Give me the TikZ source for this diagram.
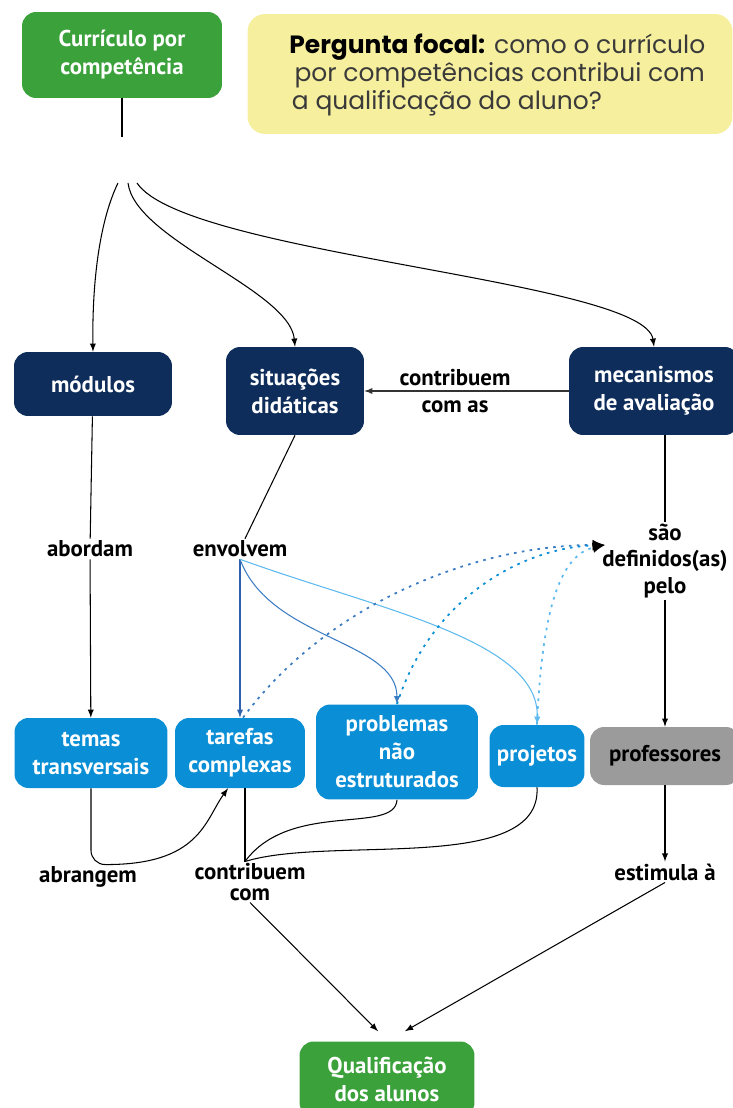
\documentclass[tikz,border=0pt]{standalone}
\usepackage{fontspec}
\setmainfont{PT Sans}
\newfontfamily\focalfont{Poppins}
\usetikzlibrary{arrows.meta}
\definecolor{verde}{HTML}{3BA13B}
\definecolor{marinho}{HTML}{0E2D5B}
\definecolor{azul}{HTML}{0A8FD6}
\definecolor{cinza}{HTML}{9B9B9B}
\definecolor{amarelo}{HTML}{F6EF9D}
\definecolor{azulA}{HTML}{2E62AE}
\definecolor{azulB}{HTML}{3C7CC3}
\definecolor{azulC}{HTML}{5DB9EE}
\definecolor{texto}{HTML}{3A3A3A}
\tikzset{
  conceito/.style={rounded corners=8pt,align=center,text=white,inner sep=2pt,
    font=\bfseries\fontsize{13}{16}\selectfont},
  rotulo/.style={align=center,inner sep=1pt,font=\bfseries\fontsize{13}{15}\selectfont},
  liga/.style={line width=0.6pt},
  seta/.style={liga,-latex},
  pontos/.style={line width=1pt,dash pattern=on 1.5pt off 3pt,-{Latex[black,length=7pt,width=6pt]}}
}
\begin{document}
\begin{tikzpicture}[x=0.02cm,y=-0.02cm]
\useasboundingbox (0,0) rectangle (733,1108);
% topo
\node[conceito,fill=verde,minimum width=4cm,minimum height=1.72cm] (curr) at (122,55) {Currículo por\\competência};
\node[fill=amarelo,rounded corners=10pt,minimum width=9.7cm,minimum height=2.4cm] (focal) at (490,74) {};
\node[anchor=west,align=left,inner sep=0pt,text=texto,font=\focalfont\fontsize{14.2}{16}\selectfont] (pergunta) at (289,75)
  {\textcolor{black}{\textbf{Pergunta focal:}} como o currículo\\\hspace{3pt}por competências contribui com\\\hspace{1.5pt}a qualificação do aluno?};
% conceitos
\node[conceito,fill=marinho,minimum width=3.16cm,minimum height=1.28cm] (mod) at (93,384) {módulos};
\node[conceito,fill=marinho,minimum width=2.76cm,minimum height=1.76cm] (sit) at (295,391) {situações\\didáticas};
\node[conceito,fill=marinho,minimum width=3.4cm,minimum height=1.76cm] (mec) at (654,391) {mecanismos\\de avaliação};
\node[conceito,fill=azul,minimum width=3.06cm,minimum height=1.4cm] (temas) at (91,753) {temas\\transversais};
\node[conceito,fill=azul,minimum width=2.6cm,minimum height=1.4cm] (tar) at (240,753) {tarefas\\complexas};
\node[conceito,fill=azul,minimum width=3.24cm,minimum height=1.9cm] (prob) at (397,752) {problemas\\não\\estruturados};
\node[conceito,fill=azul,minimum width=1.9cm,minimum height=1.24cm] (proj) at (537,756) {projetos};
\node[conceito,fill=cinza,text=black,minimum width=3cm,minimum height=1.16cm] (prof) at (665,756) {professores};
\node[conceito,fill=verde,minimum width=3.5cm,minimum height=1.5cm] (qual) at (387,1079) {Qualificação\\dos alunos};
% frases de ligacao
\node[rotulo] (contA) at (455,391) {contribuem\\com as};
\node[rotulo] (abord) at (90,549) {abordam};
\node[rotulo] (env) at (240,549) {envolvem};
\node[rotulo] (sao) at (665,561) {são\\definidos(as)\\pelo};
\node[rotulo] (abrang) at (88,877) {abrangem};
\node[rotulo,font=\bfseries\fontsize{13}{11.5}\selectfont] (contB) at (250,882) {contribuem\\com};
\node[rotulo] (estim) at (665,872) {estimula à};
\coordinate (stub) at (122,137);
\coordinate (forkA) at (118,183);
\coordinate (forkB) at (128,183);
\coordinate (forkC) at (137,183);
\coordinate (alvo) at (605,545);
% ligacoes
\draw[liga] (curr) -- (stub);
\draw[seta] (forkA) .. controls (100,220) and (92,280) .. (mod.north);
\draw[seta] (forkB) .. controls (135,240) and (290,290) .. (sit.north);
\draw[seta] (forkC) .. controls (185,255) and (645,280) .. (mec.north);
\draw[seta,black!80] (mec.west) -- (sit.east);
\draw[liga] (mod) -- (abord);
\draw[seta] (abord) -- (temas);
\draw[liga] (sit.south) -- (env);
\draw[liga] (mec.south -| sao.north) -- (sao.north);
\draw[seta] (sao) -- (prof);
\draw[seta] (prof) -- (estim);
\draw[liga,-latex,azulA] (env.south) -- (tar.north);
\draw[liga,-latex,azulB] (env.south) .. controls (270,640) and (397,640) .. (prob.north);
\draw[liga,-latex,azulC] (env.south) .. controls (380,610) and (540,640) .. (proj.north);
\draw[pontos,azulB] ([xshift=0.06cm]tar.north) .. controls (330,600) and (480,545) .. (alvo);
\draw[pontos,azul] (prob.north) .. controls (430,600) and (520,548) .. (alvo);
\draw[pontos,azulC] (proj.north) .. controls (542,610) and (560,555) .. (alvo);
\draw[seta,rounded corners=8pt] (temas.south) -- (temas.south |- abrang.north) .. controls (200,865) and (205,820) .. ([xshift=-0.24cm]tar.south);
\draw[liga] ([xshift=0.1cm]tar.south) -- ([xshift=0.1cm]tar.south |- contB.north);
\draw[liga] (prob.south) .. controls (395,835) and (290,800) .. ([xshift=0.1cm]tar.south |- contB.north);
\draw[liga] (proj.south) .. controls (542,875) and (330,835) .. ([xshift=0.1cm]tar.south |- contB.north);
\draw[seta] (contB.south) -- ([xshift=-0.18cm,yshift=0.2cm]qual.north);
\draw[seta] (estim.south) -- ([xshift=0.36cm,yshift=0.2cm]qual.north);
\end{tikzpicture}
\end{document}
